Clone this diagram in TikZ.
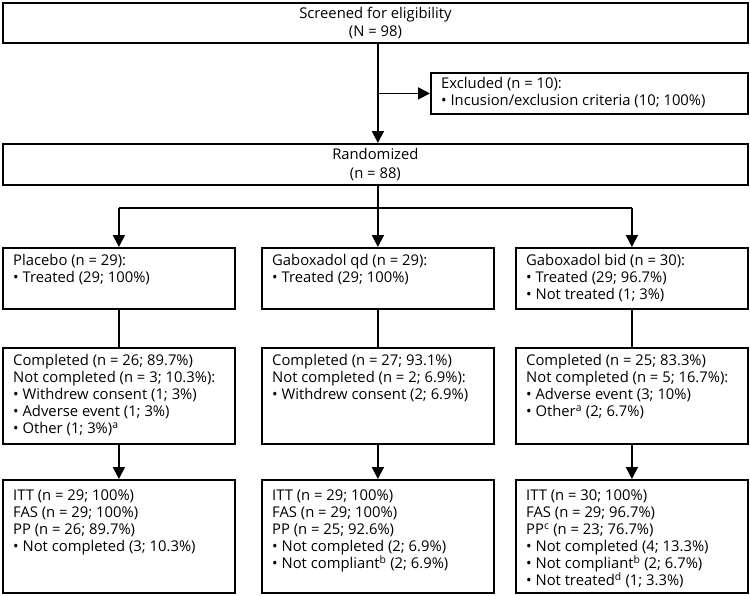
\documentclass[tikz,border=0pt]{standalone}
\usepackage{fontspec}
\setmainfont{Open Sans}
\usetikzlibrary{arrows.meta}
\newcommand\fs{\fontsize{14.8pt}{17pt}\selectfont}
\newcommand\fsc{\fontsize{14.8pt}{18.5pt}\selectfont}
\begin{document}
\begin{tikzpicture}[x=1pt,y=-1pt,
  box/.style={draw, line width=1.8pt, inner sep=0pt, anchor=north west},
  txt/.style={inner sep=0pt, anchor=north west, align=left, font=\fs},
  ctxt/.style={inner sep=0pt, align=center, font=\fsc},
  arr/.style={line width=1.8pt, -{Triangle[width=12pt,length=12pt]}},
  ln/.style={line width=1.8pt}]
\useasboundingbox (0,0) rectangle (750,595);

% boxes
\node[box, minimum width=745pt, minimum height=40pt] (scr) at (2,2) {};
\node[box, minimum width=317pt, minimum height=41pt] (exc) at (430,72) {};
\node[box, minimum width=745pt, minimum height=41pt] (rnd) at (2,143) {};

\node[box, minimum width=232pt, minimum height=61pt] (p1) at (2,247) {};
\node[box, minimum width=232pt, minimum height=61pt] (q1) at (261,247) {};
\node[box, minimum width=232pt, minimum height=61pt] (b1) at (515,247) {};

\node[box, minimum width=232pt, minimum height=96pt] (p2) at (2,347) {};
\node[box, minimum width=232pt, minimum height=96pt] (q2) at (261,347) {};
\node[box, minimum width=232pt, minimum height=96pt] (b2) at (515,347) {};

\node[box, minimum width=232pt, minimum height=113pt] (p3) at (2,479) {};
\node[box, minimum width=232pt, minimum height=113pt] (q3) at (261,479) {};
\node[box, minimum width=232pt, minimum height=113pt] (b3) at (515,479) {};

% texts
\node[ctxt] (scrt) at (scr.center) {Screened for eligibility\\(N = 98)};
\node[ctxt] (rndt) at (rnd.center) {Randomized\\(n = 88)};
\node[txt] (exct) at ([shift={(11,5)}]exc.north west) {Excluded (n = 10):\\• Incusion/exclusion criteria (10; 100\%)};

\node[txt] (p1t) at ([shift={(11,7)}]p1.north west) {Placebo (n = 29):\\• Treated (29; 100\%)};
\node[txt] (q1t) at ([shift={(11,7)}]q1.north west) {Gaboxadol qd (n = 29):\\• Treated (29; 100\%)};
\node[txt] (b1t) at ([shift={(11,7)}]b1.north west) {Gaboxadol bid (n = 30):\\• Treated (29; 96.7\%)\\• Not treated (1; 3\%)};

\node[txt] (p2t) at ([shift={(11,7)}]p2.north west) {Completed (n = 26; 89.7\%)\\Not completed (n = 3; 10.3\%):\\• Withdrew consent (1; 3\%)\\• Adverse event (1; 3\%)\\• Other (1; 3\%)\textsuperscript{a}};
\node[txt] (q2t) at ([shift={(11,7)}]q2.north west) {Completed (n = 27; 93.1\%)\\Not completed (n = 2; 6.9\%):\\• Withdrew consent (2; 6.9\%)};
\node[txt] (b2t) at ([shift={(11,7)}]b2.north west) {Completed (n = 25; 83.3\%)\\Not completed (n = 5; 16.7\%):\\• Adverse event (3; 10\%)\\• Other\textsuperscript{a} (2; 6.7\%)};

\node[txt] (p3t) at ([shift={(11,11)}]p3.north west) {ITT (n = 29; 100\%)\\FAS (n = 29; 100\%)\\PP (n = 26; 89.7\%)\\• Not completed (3; 10.3\%)};
\node[txt] (q3t) at ([shift={(11,11)}]q3.north west) {ITT (n = 29; 100\%)\\FAS (n = 29; 100\%)\\PP (n = 25; 92.6\%)\\• Not completed (2; 6.9\%)\\• Not compliant\textsuperscript{b} (2; 6.9\%)};
\node[txt] (b3t) at ([shift={(11,11)}]b3.north west) {ITT (n = 30; 100\%)\\FAS (n = 29; 96.7\%)\\PP\textsuperscript{c} (n = 23; 76.7\%)\\• Not completed (4; 13.3\%)\\• Not compliant\textsuperscript{b} (2; 6.7\%)\\• Not treated\textsuperscript{d} (1; 3.3\%)};

% connectors
\coordinate (br) at (377,208);
\draw[arr] (q1.north |- scr.south) -- (q1.north |- rnd.north);
\draw[arr] (q1.north |- exc.west) -- (exc.west);
\draw[arr] (q1.north |- rnd.south) -- (q1.north);
\draw[ln] (br -| p1.north) -- (br -| b1.north);
\draw[arr] (br -| p1.north) -- (p1.north);
\draw[arr] (br -| b1.north) -- (b1.north);

\draw[ln] (p1.south) -- (p2.north);
\draw[ln] (q1.south) -- (q2.north);
\draw[ln] (b1.south) -- (b2.north);

\draw[arr] (p2.south) -- (p3.north);
\draw[arr] (q2.south) -- (q3.north);
\draw[arr] (b2.south) -- (b3.north);
\end{tikzpicture}
\end{document}
